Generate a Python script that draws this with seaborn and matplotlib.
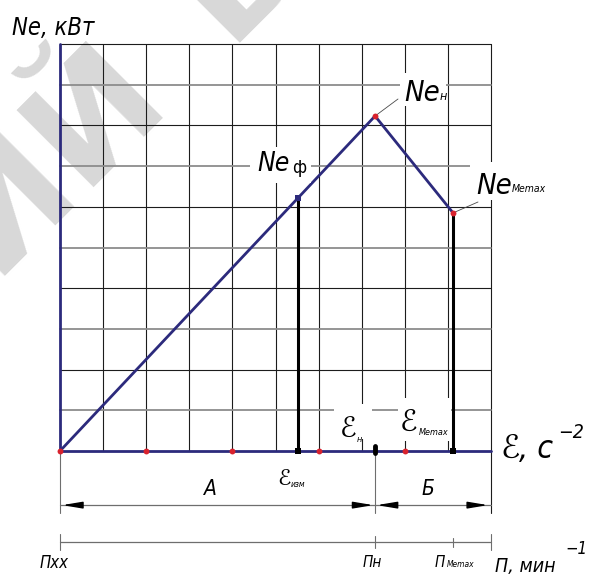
import matplotlib
matplotlib.use("Agg")
import numpy as np
import matplotlib.pyplot as plt
from matplotlib.patches import Rectangle
from matplotlib import font_manager
from matplotlib.font_manager import FontProperties
import seaborn as sns

# Characteristic points in grid units: n_xx, n_н, n_Memax
n_points = [0.0, 7.31, 9.12]
ne_points = [0.0, 8.23, 5.85]
# measured working point Ne_ф
n_phi = 5.52
# reference dots along the ε axis
axis_marks = [0, 2, 4, 6, 8]
# grid
grid_x = list(range(1, 11))
grid_y = list(range(1, 11))
# dimension lines below the chart (grid units, negative = below the axis)
dim_a_y = -1.33
dim_n_y = -2.24
ext_bottom = -1.52

sns.set_style("white")
plt.rcParams["font.family"] = ["DejaVu Sans"]


def pick_narrow_italic():
    fonts = font_manager.fontManager.ttflist
    order = ["Liberation Sans Narrow", "DejaVu Sans", "Noto Sans",
             "Open Sans", "Roboto"]
    for name in order:
        for f in fonts:
            narrow = ("Narrow" in f.name or "Condensed" in f.name
                      or f.stretch in ("condensed", "semi-condensed"))
            if f.name.startswith(name) and narrow and f.style in ("italic", "oblique") \
                    and f.weight in (400, "normal", "regular"):
                return FontProperties(fname=f.fname)
    return FontProperties(family="DejaVu Sans", style="italic")


LABEL_FP = pick_narrow_italic()
EPS_FP = FontProperties(family="DejaVu Sans", style="italic")

W, H = 592, 575
NAVY = "#2c2a7c"
RED = "#d8222e"

fig = plt.figure(figsize=(W / 100, H / 100), dpi=100)
fig.patch.set_facecolor("white")
ax = fig.add_axes([60 / W, 1 - 451 / H, 431 / W, 407 / H])
ax.set_xlim(0, 10)
ax.set_ylim(0, 10)
ax.set_axis_off()
renderer = fig.canvas.get_renderer()


def fx(xp):
    return xp / W


def fy(yp):
    return 1 - yp / H


def put(xp, yp, s, size, fp=None, **kw):
    props = (fp or LABEL_FP).copy()
    props.set_size(size)
    return fig.text(fx(xp), fy(yp), s, fontproperties=props, ha="left",
                    va="baseline", color="black", zorder=6, **kw)


def after(t, s, size, dy=0, gap=1, fp=None):
    bb = t.get_window_extent(renderer)
    base_y = H - t.get_position()[1] * H
    return put(bb.x1 + gap, base_y + dy, s, size, fp)


def blank(x0, y0, x1, y1):
    fig.add_artist(Rectangle((fx(x0), fy(y1)), (x1 - x0) / W, (y1 - y0) / H,
                             transform=fig.transFigure, facecolor="white",
                             edgecolor="none", zorder=5))


# repository watermark behind the drawing
wm = dict(rotation=45, fontsize=108, fontweight="bold", color="#d8d8d8",
          va="baseline", rotation_mode="anchor", zorder=-2, family="DejaVu Sans")
fig.text(fx(170), fy(98), "РЕПОЗИТОРИЙ", ha="right", **wm)
fig.text(fx(226), fy(43), "БНТУ", ha="left", **wm)

# grid
for gx in grid_x:
    y0 = ext_bottom if gx == grid_x[-1] else 0
    ax.plot([gx, gx], [y0, 10], color="#1c1c1c", lw=0.8, zorder=1, clip_on=False)
for gy in grid_y:
    black = gy % 2 == 0
    ax.plot([0, 10], [gy, gy], color="#1c1c1c" if black else "#8c8c8c",
            lw=0.8 if black else 1.3, zorder=1, clip_on=False)

# axes drawn as heavy navy lines
ax.plot([0, 0], [0, 10], color=NAVY, lw=2.0, zorder=4, clip_on=False)
ax.plot([0, 10], [0, 0], color=NAVY, lw=2.0, zorder=4, clip_on=False)

# power curve
sns.lineplot(x=n_points, y=ne_points, sort=False, color=NAVY, lw=2.0,
             ax=ax, zorder=5, legend=False)

ne_phi = float(np.interp(n_phi, n_points, ne_points))

# ordinates at Ne_ф and Ne_Memax
ax.plot([n_phi, n_phi], [0, ne_phi], color="black", lw=2.2, zorder=5, clip_on=False)
ax.plot([n_points[2], n_points[2]], [0, ne_points[2]], color="black", lw=2.2,
        zorder=5, clip_on=False)
sns.scatterplot(x=[n_phi, n_points[2]], y=[0, 0], marker="s", s=22,
                color="black", linewidth=0, ax=ax, zorder=6, clip_on=False)
sns.scatterplot(x=[n_phi], y=[ne_phi], marker="s", s=14, color=NAVY,
                linewidth=0, ax=ax, zorder=6)
ax.plot([n_points[1], n_points[1]], [-0.04, 0.12], color="black", lw=3.5,
        zorder=6, solid_capstyle="round", clip_on=False)

# red reference dots
sns.scatterplot(x=axis_marks, y=[0] * len(axis_marks), color=RED, s=18,
                linewidth=0, ax=ax, zorder=7, clip_on=False)
sns.scatterplot(x=n_points[1:], y=ne_points[1:], color=RED, s=18,
                linewidth=0, ax=ax, zorder=7, clip_on=False)

# extension lines and dimension lines
GREY = "#6e6e6e"
for xe in (n_points[0], n_points[1]):
    ax.plot([xe, xe], [0, ext_bottom], color=GREY, lw=0.8, zorder=2, clip_on=False)
for xe, half in ((n_points[0], 0.2), (n_points[1], 0.14), (n_points[2], 0.11), (10, 0.2)):
    ax.plot([xe, xe], [dim_n_y - half, dim_n_y + half], color=GREY, lw=0.8,
            zorder=2, clip_on=False)
ax.plot([0, 10], [dim_a_y, dim_a_y], color=GREY, lw=0.9, zorder=2, clip_on=False)
ax.plot([0, 10], [dim_n_y, dim_n_y], color=GREY, lw=0.9, zorder=2, clip_on=False)

arrow = dict(arrowstyle="-|>,head_length=1.2,head_width=0.2", color="black",
             lw=1.0, shrinkA=0, shrinkB=0)
for tip, tail in ((0.05, 0.48), (n_points[1] - 0.04, n_points[1] - 0.48),
                  (n_points[1] + 0.04, n_points[1] + 0.48), (9.93, 9.5)):
    ax.annotate("", xy=(tip, dim_a_y), xytext=(tail, dim_a_y),
                arrowprops=arrow, annotation_clip=False, zorder=3)

# leaders from labels to points
lead = dict(arrowstyle="-", color="#4a4a4a", lw=0.6, shrinkA=0, shrinkB=0)
ax.annotate("", xy=(n_points[1], ne_points[1]), xytext=(fx(398), fy(99)),
            textcoords="figure fraction", arrowprops=lead, zorder=3)
ax.annotate("", xy=(n_points[2], ne_points[2]), xytext=(fx(478), fy(202)),
            textcoords="figure fraction", arrowprops=lead, zorder=3)

# labels
put(12, 35, "Ne, кВт", 17)

blank(400, 73, 446, 106)
t = put(404, 101, "Ne", 21)
after(t, "н", 9, dy=-1, gap=0)

blank(250, 147, 311, 183)
t = put(257, 171, "Ne", 19)
after(t, "ф", 12, dy=2, gap=3, fp=FontProperties(family="DejaVu Sans"))

blank(470, 162, 546, 200)
t = put(476, 194, "Ne", 21)
after(t, "Memax", 7.5, dy=-2, gap=0)

EPS = "\u2130"
blank(334, 404, 372, 439)
t = put(340, 437, EPS, 20, fp=EPS_FP)
after(t, "н", 6.5, dy=5, gap=0)

blank(398, 398, 451, 441)
t = put(400, 432, EPS, 21, fp=EPS_FP)
after(t, "Memax", 6.5, dy=3, gap=1)

t = put(277, 485, EPS, 16, fp=EPS_FP)
after(t, "изм", 6, dy=2, gap=0)

t = put(500, 458, EPS, 23, fp=EPS_FP)
t = after(t, ", с", 23, gap=0)
after(t, "\u22122", 14, dy=-20, gap=5)

put(204, 495, "А", 15)
put(421, 495, "Б", 15)

put(40, 568, "Пхх", 12)
put(363, 567, "Пн", 11)
t = put(435, 567, "П", 11)
after(t, "Memax", 6, gap=1)
t = put(495, 572, "П, мин", 14)
after(t, "\u22121", 12, dy=-18, gap=10)

fig.savefig("out.png", dpi=100, facecolor="white")
